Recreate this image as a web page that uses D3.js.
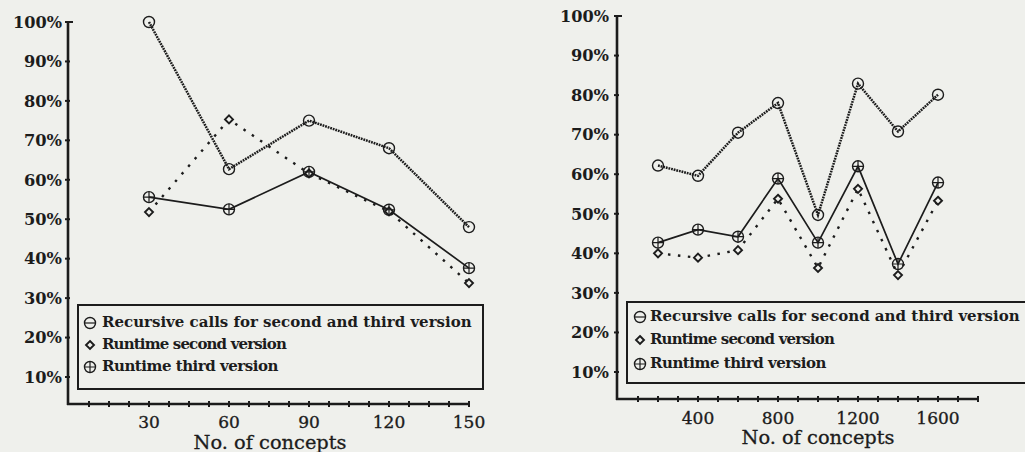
<!DOCTYPE html>
<html>
<head>
<meta charset="utf-8">
<script src="https://cdn.jsdelivr.net/npm/d3@7"></script>
<style>
  body { margin: 0; background: #eff0ec; }
  svg { display: block; }
  text { font-family: "DejaVu Serif", serif; fill: #1c1c1c; }
</style>
</head>
<body>
<svg id="chart" width="1025" height="452"></svg>
<script>
"use strict";

// values (percent)
const leftConcepts = [30, 60, 90, 120, 150];
const leftRecursive = [100, 62.7, 75, 68, 48];
const leftRuntime2 = [51.8, 75.3, 61.6, 52, 33.8];
const leftRuntime3 = [55.6, 52.5, 62, 52.4, 37.6];

const rightConcepts = [200, 400, 600, 800, 1000, 1200, 1400, 1600];
const rightRecursive = [62.2, 59.6, 70.5, 78, 49.7, 82.9, 70.8, 80.1];
const rightRuntime2 = [40, 38.9, 40.8, 53.8, 36.3, 56.3, 34.5, 53.3];
const rightRuntime3 = [42.7, 46, 44.2, 58.9, 42.7, 62, 37.3, 57.9];

const yTicks = [10, 20, 30, 40, 50, 60, 70, 80, 90, 100];
const leftXLabels = [30, 60, 90, 120, 150];
const rightXLabels = [400, 800, 1200, 1600];
const legendLabels = [
    "Recursive calls for second and third version",
    "Runtime second version",
    "Runtime third version"
];
const xTitle = "No. of concepts";

const ink = "#1c1c1c";
const paper = "#eff0ec";
const svg = d3.select("#chart");

// marker drawing helpers
function drawMarker(g, kind, x, y) {
    if (kind === "diamond") {
        const s = 4;
        g.append("path")
            .attr("d", `M${x},${y - s}L${x + s},${y}L${x},${y + s}L${x - s},${y}Z`)
            .attr("fill", paper).attr("stroke", ink).attr("stroke-width", 1.9);
        return;
    }
    g.append("circle").attr("cx", x).attr("cy", y).attr("r", 5.5)
        .attr("fill", "none").attr("stroke", ink).attr("stroke-width", 1.4);
    if (kind === "plus") {
        g.append("path")
            .attr("d", `M${x - 5.5},${y}H${x + 5.5}M${x},${y - 5.5}V${y + 5.5}`)
            .attr("stroke", ink).attr("stroke-width", 1.2);
    }
    if (kind === "minus") {
        g.append("path")
            .attr("d", `M${x - 5.5},${y}H${x + 5.5}`)
            .attr("stroke", ink).attr("stroke-width", 1.2);
    }
}

const seriesStyles = [
    { kind: "circle", legendKind: "minus", dash: "1.8,0.9", width: 2.5 },
    { kind: "diamond", legendKind: "diamond", dash: "2.5,7.5", width: 2.4 },
    { kind: "plus", legendKind: "plus", dash: null, width: 1.7 }
];

function drawPanel(cfg) {
    const g = svg.append("g");

    const x = d3.scaleLinear().domain([0, cfg.xMax]).range([cfg.x0, cfg.x1]);
    const y = d3.scaleLinear().domain([10, 100]).range([cfg.y10, cfg.y100]);

    // y axis
    g.append("line")
        .attr("x1", cfg.axisX).attr("x2", cfg.axisX)
        .attr("y1", y(100)).attr("y2", cfg.axisY + 1)
        .attr("stroke", ink).attr("stroke-width", 2.6);
    g.selectAll(".ytick").data(yTicks).enter().append("line")
        .attr("x1", d => cfg.axisX - 3).attr("x2", d => d === 100 ? cfg.axisX + 5 : cfg.axisX + 2)
        .attr("y1", d => y(d)).attr("y2", d => y(d))
        .attr("stroke", ink).attr("stroke-width", 2);
    g.selectAll(".ylab").data(yTicks).enter().append("text")
        .attr("x", cfg.axisX - cfg.yLabGap).attr("y", d => y(d))
        .attr("dy", "0.36em").attr("text-anchor", "end")
        .attr("font-size", 16).attr("font-weight", "bold")
        .attr("textLength", d => d === 100 ? 49 : 38).attr("lengthAdjust", "spacingAndGlyphs")
        .text(d => d + "%");

    // x axis
    g.append("line")
        .attr("x1", cfg.axisX - 1).attr("x2", cfg.x1 + 1)
        .attr("y1", cfg.axisY).attr("y2", cfg.axisY)
        .attr("stroke", ink).attr("stroke-width", 2.6);
    g.selectAll(".xtick").data(d3.range(cfg.minorStep, cfg.xMax + 0.01, cfg.minorStep)).enter().append("line")
        .attr("x1", d => x(d)).attr("x2", d => x(d))
        .attr("y1", cfg.axisY - 3).attr("y2", cfg.axisY + 3)
        .attr("stroke", ink).attr("stroke-width", 2);
    g.selectAll(".xlab").data(cfg.xLabels).enter().append("text")
        .attr("x", d => x(d)).attr("y", cfg.xLabY)
        .attr("text-anchor", "middle").attr("font-size", 17)
        .attr("stroke", ink).attr("stroke-width", 0.35)
        .text(d => d);
    g.append("text")
        .attr("x", cfg.titleX).attr("y", cfg.titleY)
        .attr("text-anchor", "middle").attr("font-size", 18)
        .attr("stroke", ink).attr("stroke-width", 0.3)
        .attr("textLength", 153).attr("lengthAdjust", "spacingAndGlyphs")
        .text(xTitle);

    // series lines
    const line = d3.line().x(d => x(d[0])).y(d => y(d[1]));
    cfg.series.forEach((vals, i) => {
        const st = seriesStyles[i];
        const pts = cfg.concepts.map((c, j) => [c, vals[j]]);
        g.append("path").datum(pts)
            .attr("d", line)
            .attr("fill", "none").attr("stroke", ink)
            .attr("stroke-width", st.width)
            .attr("stroke-dasharray", st.dash);
    });
    cfg.series.forEach((vals, i) => {
        const st = seriesStyles[i];
        cfg.concepts.forEach((c, j) => drawMarker(g, st.kind, x(c), y(vals[j])));
    });

    // legend
    const lg = g.append("g");
    lg.append("rect")
        .attr("x", cfg.legend.x).attr("y", cfg.legend.y)
        .attr("width", cfg.legend.w).attr("height", cfg.legend.h)
        .attr("fill", paper).attr("stroke", ink).attr("stroke-width", 2);
    legendLabels.forEach((lab, i) => {
        const ry = cfg.legend.rows[i];
        drawMarker(lg, seriesStyles[i].legendKind, cfg.legend.symX, ry + 1);
        lg.append("text")
            .attr("x", cfg.legend.textX).attr("y", ry).attr("dy", "0.36em")
            .attr("font-size", 15).attr("font-weight", "bold")
            .attr("textLength", lab.length * 8.4).attr("lengthAdjust", "spacing")
            .text(lab);
    });
}

drawPanel({
    xMax: 150, x0: 69, x1: 469, minorStep: 7.5,
    y10: 377, y100: 22, axisX: 68, axisY: 404, yLabGap: 6,
    xLabels: leftXLabels, xLabY: 428, titleX: 270, titleY: 449,
    concepts: leftConcepts,
    series: [leftRecursive, leftRuntime2, leftRuntime3],
    legend: { x: 78, y: 305, w: 405, h: 84, rows: [322, 344, 366], symX: 90, textX: 102 }
});

drawPanel({
    xMax: 1800, x0: 618, x1: 978, minorStep: 100,
    y10: 372, y100: 16, axisX: 617, axisY: 399, yLabGap: 8,
    xLabels: rightXLabels, xLabY: 424, titleX: 818, titleY: 444,
    concepts: rightConcepts,
    series: [rightRecursive, rightRuntime2, rightRuntime3],
    legend: { x: 627, y: 302, w: 410, h: 81, rows: [316, 339, 363], symX: 640, textX: 650 }
});
</script>
</body>
</html>
